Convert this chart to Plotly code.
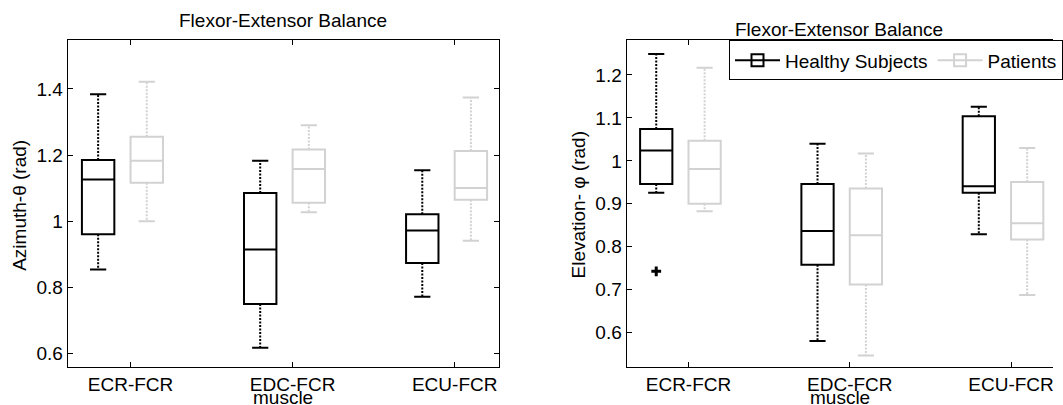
import plotly.graph_objects as go

W, H = 1063, 405

# ---------------- data ----------------
categories = ["ECR-FCR", "EDC-FCR", "ECU-FCR"]
cat_pos = [1, 2, 3]
series_names = ["Healthy Subjects", "Patients"]

# Azimuth (left panel)
az_healthy_lower = [0.854, 0.617, 0.771]
az_healthy_q1 = [0.960, 0.749, 0.873]
az_healthy_median = [1.126, 0.914, 0.972]
az_healthy_q3 = [1.185, 1.085, 1.021]
az_healthy_upper = [1.384, 1.183, 1.154]

az_patients_lower = [1.000, 1.027, 0.941]
az_patients_q1 = [1.116, 1.056, 1.065]
az_patients_median = [1.183, 1.158, 1.100]
az_patients_q3 = [1.255, 1.217, 1.212]
az_patients_upper = [1.422, 1.290, 1.374]

# Elevation (right panel)
el_healthy_lower = [0.926, 0.581, 0.829]
el_healthy_q1 = [0.946, 0.758, 0.926]
el_healthy_median = [1.024, 0.837, 0.941]
el_healthy_q3 = [1.074, 0.946, 1.104]
el_healthy_upper = [1.249, 1.040, 1.126]
el_healthy_outliers = [0.743]          # belongs to ECR-FCR
el_healthy_outlier_cat = [1]

el_patients_lower = [0.883, 0.547, 0.688]
el_patients_q1 = [0.900, 0.712, 0.817]
el_patients_median = [0.981, 0.827, 0.855]
el_patients_q3 = [1.047, 0.936, 0.951]
el_patients_upper = [1.217, 1.017, 1.030]

az_ticks = [0.6, 0.8, 1.0, 1.2, 1.4]
az_ticktext = ["0.6", "0.8", "1", "1.2", "1.4"]
el_ticks = [0.6, 0.7, 0.8, 0.9, 1.0, 1.1, 1.2]
el_ticktext = ["0.6", "0.7", "0.8", "0.9", "1", "1.1", "1.2"]

# ---------------- style ----------------
BLACK = "#000000"
GRAY = "#d2d2d2"
FONT = "Liberation Sans, Arial, Helvetica, sans-serif"
FS = 19
OFFSETS = {"Healthy Subjects": -0.2, "Patients": 0.1}
COLORS = {"Healthy Subjects": BLACK, "Patients": GRAY}
BOX_W = 0.2
CAP_W = 0.1
DOT = "2px,1.5px"

fig = go.Figure()


def add_series(name, lower, q1, med, q3, upper, xa, ya):
    col = COLORS[name]
    pos = [c + OFFSETS[name] for c in cat_pos]
    # whiskers (dotted)
    wx, wy = [], []
    cx, cy = [], []
    for p, lo, a, b, up in zip(pos, lower, q1, q3, upper):
        wx += [p, p, None, p, p, None]
        wy += [b, up, None, a, lo, None]
        cx += [p - CAP_W / 2, p + CAP_W / 2, None, p - CAP_W / 2, p + CAP_W / 2, None]
        cy += [up, up, None, lo, lo, None]
    fig.add_trace(go.Scatter(x=wx, y=wy, mode="lines", showlegend=False, hoverinfo="skip",
                             line=dict(color=col, width=2, dash=DOT), xaxis=xa, yaxis=ya))
    fig.add_trace(go.Scatter(x=cx, y=cy, mode="lines", showlegend=False, hoverinfo="skip",
                             line=dict(color=col, width=2), xaxis=xa, yaxis=ya))
    fig.add_trace(go.Box(x=pos, q1=q1, median=med, q3=q3, lowerfence=q1, upperfence=q3,
                         width=BOX_W, whiskerwidth=0, boxpoints=False, name=name,
                         line=dict(color=col, width=2), fillcolor="rgba(0,0,0,0)",
                         showlegend=False, xaxis=xa, yaxis=ya))


add_series("Healthy Subjects", az_healthy_lower, az_healthy_q1, az_healthy_median,
           az_healthy_q3, az_healthy_upper, "x", "y")
add_series("Patients", az_patients_lower, az_patients_q1, az_patients_median,
           az_patients_q3, az_patients_upper, "x", "y")
add_series("Healthy Subjects", el_healthy_lower, el_healthy_q1, el_healthy_median,
           el_healthy_q3, el_healthy_upper, "x2", "y2")
add_series("Patients", el_patients_lower, el_patients_q1, el_patients_median,
           el_patients_q3, el_patients_upper, "x2", "y2")

# outlier
fig.add_trace(go.Scatter(
    x=[c + OFFSETS["Healthy Subjects"] for c in el_healthy_outlier_cat], y=el_healthy_outliers,
    mode="markers", showlegend=False, hoverinfo="skip",
    marker=dict(symbol="cross-thin", size=7, line=dict(color=BLACK, width=3)),
    xaxis="x2", yaxis="y2"))

# legend entries (MATLAB-style line + square)
for name in series_names:
    fig.add_trace(go.Scatter(
        x=[None], y=[None], mode="lines+markers", name=name,
        line=dict(color=COLORS[name], width=2),
        marker=dict(symbol="square-open", size=12, color=COLORS[name],
                    line=dict(color=COLORS[name], width=2)),
        xaxis="x2", yaxis="y2"))

# ---------------- layout ----------------
def px_x(v):
    return v / W


def px_y(v):
    return 1 - v / H


y_dom = [px_y(367.3), px_y(40.3)]
common_x = dict(tickmode="array", tickvals=cat_pos, ticktext=categories, ticks="inside",
                ticklen=5, tickcolor=BLACK, tickwidth=1, showline=True, linecolor=BLACK,
                linewidth=1, mirror="ticks", showgrid=False, zeroline=False,
                ticklabeloverflow="allow",
                tickfont=dict(family=FONT, size=FS, color=BLACK), automargin=False)
common_y = dict(ticks="inside", ticklen=5, tickcolor=BLACK, tickwidth=1, showline=True,
                linecolor=BLACK, linewidth=1, showgrid=False, zeroline=False,
                tickfont=dict(family=FONT, size=FS, color=BLACK), automargin=False,
                domain=y_dom)

fig.update_layout(
    width=W, height=H, margin=dict(l=0, r=0, t=0, b=0),
    paper_bgcolor="white", plot_bgcolor="white", template="none",
    boxmode="overlay",
    font=dict(family=FONT, size=FS, color=BLACK),
    xaxis=dict(common_x, domain=[px_x(68.3), px_x(504.0)], range=[0.612, 3.275], anchor="y"),
    yaxis=dict(common_y, range=[0.5577, 1.5472], tickvals=az_ticks, ticktext=az_ticktext,
               tickmode="array", mirror="ticks", anchor="x"),
    xaxis2=dict(common_x, domain=[px_x(632.5), 1.0], range=[0.616, 3.26], anchor="y2"),
    yaxis2=dict(common_y, range=[0.5195, 1.2807], tickvals=el_ticks, ticktext=el_ticktext,
                tickmode="array", mirror=False, anchor="x2"),
    legend=dict(orientation="h", x=px_x(736), y=px_y(40.3), xanchor="left", yanchor="top",
                bgcolor="white", bordercolor=BLACK, borderwidth=1,
                font=dict(family=FONT, size=FS, color=BLACK), itemwidth=45,
                tracegroupgap=0),
    showlegend=True,
)

annots = [
    dict(text="Flexor-Extensor Balance", x=px_x(286), y=px_y(20), yanchor="middle"),
    dict(text="Flexor-Extensor Balance", x=px_x(847), y=px_y(29), yanchor="middle"),
    dict(text="muscle", x=px_x(286), y=px_y(397), yanchor="middle"),
    dict(text="muscle", x=px_x(848), y=px_y(397), yanchor="middle"),
    dict(text="Azimuth-θ (rad)", x=px_x(19), y=px_y(205), yanchor="middle", textangle=-90),
    dict(text="Elevation- φ (rad)", x=px_x(583), y=px_y(205), yanchor="middle", textangle=-90),
]
for a in annots:
    fig.add_annotation(xref="paper", yref="paper", showarrow=False, xanchor="center",
                       font=dict(family=FONT, size=FS, color=BLACK), **a)

fig.write_html("out.html")
